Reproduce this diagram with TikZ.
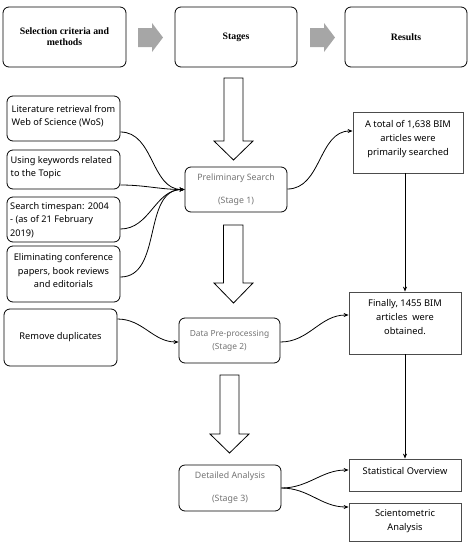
\documentclass[tikz,border=0pt]{standalone}
\usepackage{fontspec}
\setmainfont{Liberation Serif}
\newfontfamily\yh{Noto Sans}
\usetikzlibrary{arrows.meta}
\begin{document}
\begin{tikzpicture}[x=1pt,y=-1pt,
  hdr/.style={draw,thick,rounded corners=6pt,font=\bfseries\fontsize{9.8}{11}\selectfont,align=center,inner sep=0pt},
  lbox/.style={draw,thick,rounded corners=6pt,inner sep=0pt},
  ltxt/.style={font=\yh\fontsize{9.2}{13.5}\selectfont,align=left,inner sep=0pt},
  sbox/.style={draw,thick,rounded corners=6pt,align=center,text=black!55,inner sep=0pt},
  rbox/.style={draw=black!70,thick,inner sep=0pt},
  rtxt/.style={font=\yh\fontsize{9.3}{14}\selectfont,align=center,inner sep=0pt},
  con/.style={thick,-{Stealth[length=5pt,width=4pt]}},
  hollow/.style={draw,thick,fill=white},
  gray arrow/.style={fill=black!35,draw=none}]
\useasboundingbox (0,0) rectangle (471,550);
% headers
\node[hdr,minimum width=123pt,minimum height=60pt] (h1) at (64.5,37) {Selection criteria and\\methods};
\node[hdr,minimum width=122pt,minimum height=60pt] (h2) at (236,37) {Stages};
\node[hdr,minimum width=122pt,minimum height=60pt] (h3) at (406,37) {Results};
\fill[gray arrow] (138,28)--(152,28)--(152,23)--(163,37.5)--(152,52)--(152,47)--(138,47)--cycle;
\fill[gray arrow] (310,28)--(324,28)--(324,23)--(335,37.5)--(324,52)--(324,47)--(310,47)--cycle;
% hollow arrows
\draw[hollow] (224,78)--(243,78)--(243,141)--(253,141)--(233.5,160)--(214,141)--(224,141)--cycle;
\draw[hollow] (223.5,225)--(243,225)--(243,283)--(253,283)--(233.5,303)--(214,283)--(223.5,283)--cycle;
\draw[hollow] (220,375)--(239,375)--(239,434)--(249,434)--(229.5,453)--(210,434)--(220,434)--cycle;
% left boxes
\node[lbox,minimum width=113pt,minimum height=45pt] (l1) at (63.5,118.5) {};
\node[ltxt,anchor=west] (l1t) at (11.5,116) {Literature retrieval from\\Web of Science (WoS)};
\node[lbox,minimum width=113pt,minimum height=39pt] (l2) at (63.5,169.5) {};
\node[ltxt,anchor=west] (l2t) at (10.5,167.5) {Using keywords related\\to the Topic};
\node[lbox,minimum width=113pt,minimum height=45pt] (l3) at (63.5,219.5) {};
\node[ltxt,anchor=west] (l3t) at (10,220) {Search timespan: 2004\\- (as of 21 February\\2019)};
\node[lbox,minimum width=113pt,minimum height=56pt] (l4) at (63.5,274) {};
\node[ltxt,align=center] (l4t) at (63.5,271) {Eliminating conference\\papers, book reviews\\and editorials};
\node[lbox,minimum width=113pt,minimum height=57pt,font=\yh\fontsize{9.3}{13}\selectfont] (l5) at (60.5,337.5) {Remove duplicates};
% stage boxes
\node[sbox,minimum width=102pt,minimum height=45pt,font=\yh\fontsize{8.8}{23}\selectfont] (s1) at (236,189.5) {Preliminary Search\\(Stage 1)};
\node[sbox,minimum width=101pt,minimum height=45pt,font=\yh\fontsize{8.4}{13}\selectfont] (s2) at (229.5,340.5) {Data Pre-processing\\(Stage 2)};
\node[sbox,minimum width=102pt,minimum height=46pt,font=\yh\fontsize{8.8}{23}\selectfont] (s3) at (230,488) {Detailed Analysis\\(Stage 3)};
% result boxes
\node[rbox,minimum width=110pt,minimum height=61pt] (r1) at (408,142.5) {};
\node[rtxt] (r1t) at (408,139.5) {A total of 1,638 BIM\\articles were\\primarily searched};
\node[rbox,minimum width=112pt,minimum height=62pt] (r2) at (405,323) {};
\node[rtxt] (r2t) at (405,317) {Finally, 1455 BIM\\articles\ \ were\\obtained.};
\node[rbox,minimum width=112pt,minimum height=32pt] (r3) at (405,475) {};
\node[rtxt] (r3t) at (405,471) {Statistical Overview};
\node[rbox,minimum width=112pt,minimum height=38pt] (r4) at (405,522) {};
\node[rtxt] (r4t) at (405,521.5) {Scientometric\\Analysis};
% connectors
\coordinate (in1) at (s1.west);
\draw[con] (l1.east|-0,132) to[out=0,in=180] (in1);
\draw[con] (l2.east|-0,185) to[out=0,in=180] (in1);
\draw[con] (l3.east|-0,229) to[out=0,in=180] (in1);
\draw[con] (l4.east|-0,277) to[out=0,in=180] (in1);
\draw[con] (s1.east|-0,189) to[out=0,in=180] (r1.west|-0,131);
\draw[con] (r1.south-|405,0) -- (r2.north-|405,0);
\draw[con] (l5.east|-0,319) to[out=0,in=180] (s2.west|-0,342);
\draw[con] (s2.east|-0,342) to[out=0,in=180] (r2.west|-0,315);
\draw[con] (r2.south-|405,0) -- (r3.north-|405,0);
\draw[con] (s3.east|-0,488) to[out=0,in=180] (r3.west|-0,470);
\draw[con] (s3.east|-0,488) to[out=0,in=180] (r4.west|-0,507);
\end{tikzpicture}
\end{document}
